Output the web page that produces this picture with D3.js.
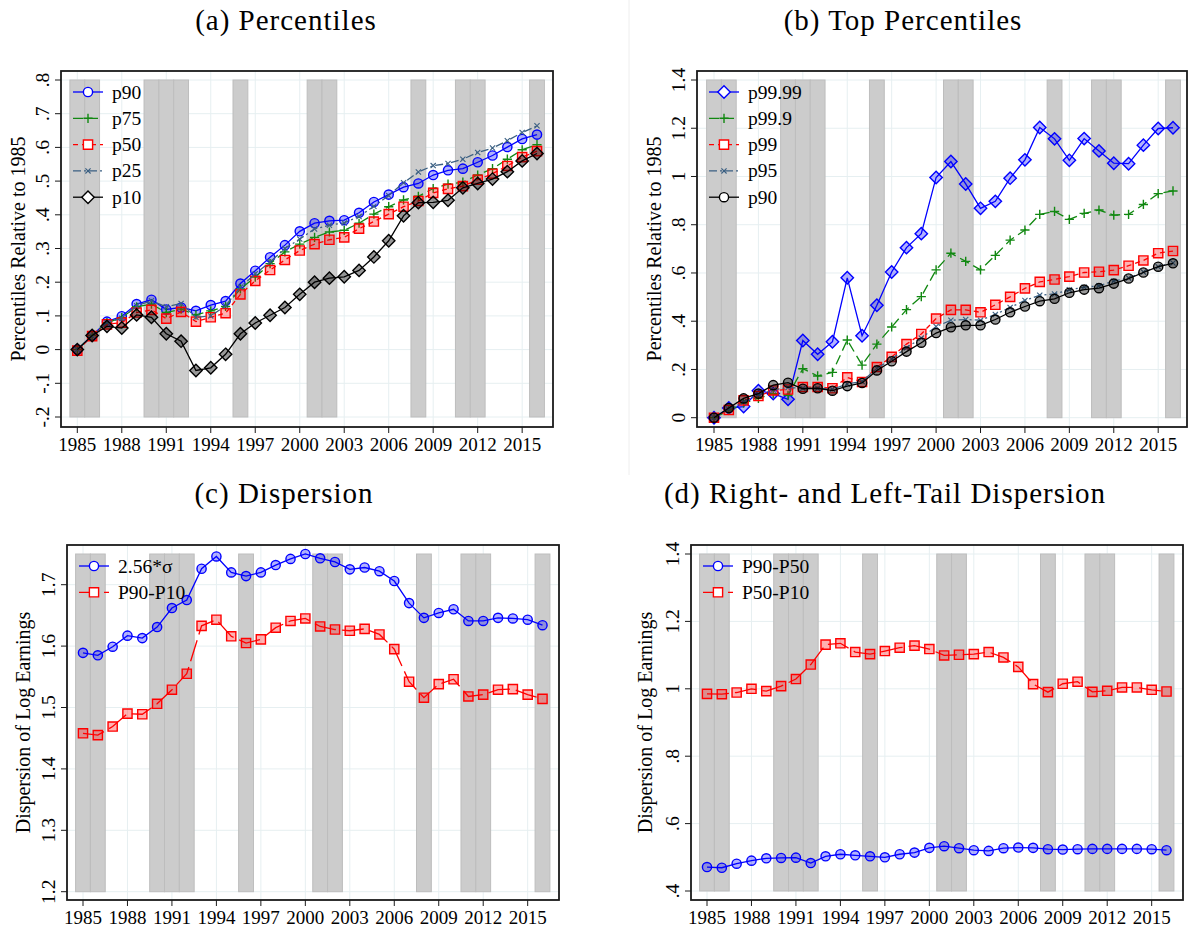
<!DOCTYPE html>
<html>
<head>
<meta charset="utf-8">
<script src="https://cdn.jsdelivr.net/npm/d3@7"></script>
<style>
    body { margin: 0; background: #fff; }
    svg { display: block; }
</style>
</head>
<body>
<svg id="fig" width="1188" height="930"></svg>
<script>
// ---------- data ----------
const years = [1985, 1986, 1987, 1988, 1989, 1990, 1991, 1992, 1993, 1994, 1995, 1996, 1997, 1998, 1999, 2000,
    2001, 2002, 2003, 2004, 2005, 2006, 2007, 2008, 2009, 2010, 2011, 2012, 2013, 2014, 2015, 2016];
const recessionYears = [1985, 1986, 1990, 1991, 1992, 1996, 2001, 2002, 2008, 2011, 2012, 2016];
const xTicks = [1985, 1988, 1991, 1994, 1997, 2000, 2003, 2006, 2009, 2012, 2015];

// (a) Percentiles
const aP90 = [0, 0.042, 0.083, 0.099, 0.135, 0.148, 0.119, 0.125, 0.115, 0.132, 0.144, 0.196, 0.234, 0.274, 0.31, 0.351,
    0.375, 0.382, 0.384, 0.406, 0.438, 0.46, 0.482, 0.493, 0.518, 0.532, 0.537, 0.556, 0.576, 0.601, 0.625, 0.638];
const aP75 = [0, 0.042, 0.08, 0.095, 0.127, 0.135, 0.11, 0.12, 0.103, 0.115, 0.128, 0.18, 0.215, 0.255, 0.29, 0.313,
    0.333, 0.349, 0.354, 0.375, 0.402, 0.424, 0.444, 0.455, 0.478, 0.491, 0.497, 0.518, 0.537, 0.565, 0.593, 0.608];
const aP50 = [-0.003, 0.04, 0.075, 0.08, 0.11, 0.118, 0.092, 0.112, 0.083, 0.096, 0.108, 0.164, 0.204, 0.236, 0.266, 0.294,
    0.313, 0.326, 0.333, 0.359, 0.38, 0.402, 0.424, 0.441, 0.465, 0.477, 0.485, 0.504, 0.522, 0.545, 0.571, 0.589];
const aP25 = [0, 0.04, 0.08, 0.093, 0.13, 0.145, 0.127, 0.137, 0.096, 0.1, 0.13, 0.185, 0.225, 0.26, 0.3, 0.328,
    0.358, 0.369, 0.376, 0.395, 0.425, 0.457, 0.495, 0.527, 0.546, 0.552, 0.565, 0.585, 0.598, 0.62, 0.644, 0.664];
const aP10 = [0, 0.042, 0.069, 0.064, 0.103, 0.096, 0.047, 0.025, -0.062, -0.054, -0.014, 0.047, 0.079, 0.102, 0.125, 0.164,
    0.2, 0.212, 0.216, 0.235, 0.275, 0.323, 0.397, 0.436, 0.437, 0.443, 0.48, 0.493, 0.506, 0.528, 0.56, 0.582];
const aTicks = [-0.2, -0.1, 0, 0.1, 0.2, 0.3, 0.4, 0.5, 0.6, 0.7, 0.8];

// (b) Top Percentiles
const bP9999 = [0, 0.04, 0.046, 0.112, 0.1, 0.076, 0.32, 0.263, 0.315, 0.58, 0.34, 0.466, 0.604, 0.705, 0.763, 0.996,
    1.062, 0.969, 0.868, 0.897, 0.993, 1.069, 1.203, 1.156, 1.067, 1.157, 1.106, 1.055, 1.053, 1.13, 1.199, 1.202];
const bP999 = [0, 0.03, 0.06, 0.08, 0.1, 0.093, 0.203, 0.173, 0.188, 0.322, 0.218, 0.305, 0.376, 0.448, 0.502, 0.613,
    0.682, 0.648, 0.613, 0.673, 0.736, 0.778, 0.843, 0.855, 0.822, 0.847, 0.861, 0.84, 0.843, 0.884, 0.929, 0.94];
const bP99 = [0, 0.032, 0.072, 0.09, 0.113, 0.117, 0.127, 0.127, 0.122, 0.167, 0.148, 0.21, 0.252, 0.305, 0.347, 0.411,
    0.447, 0.447, 0.437, 0.468, 0.501, 0.536, 0.563, 0.573, 0.585, 0.602, 0.605, 0.612, 0.63, 0.652, 0.682, 0.691];
const bP95 = [0, 0.035, 0.065, 0.095, 0.115, 0.125, 0.122, 0.122, 0.118, 0.14, 0.15, 0.205, 0.243, 0.29, 0.33, 0.378,
    0.404, 0.407, 0.404, 0.428, 0.457, 0.486, 0.508, 0.513, 0.53, 0.541, 0.547, 0.566, 0.579, 0.604, 0.626, 0.641];
const bP90 = [0, 0.04, 0.08, 0.1, 0.135, 0.145, 0.12, 0.122, 0.112, 0.131, 0.144, 0.196, 0.234, 0.274, 0.311, 0.351,
    0.375, 0.383, 0.383, 0.407, 0.437, 0.461, 0.483, 0.493, 0.518, 0.531, 0.537, 0.556, 0.577, 0.602, 0.626, 0.64];
const bTicks = [0, 0.2, 0.4, 0.6, 0.8, 1, 1.2, 1.4];

// (c) Dispersion
const cSigma = [1.589, 1.585, 1.599, 1.617, 1.613, 1.631, 1.662, 1.675, 1.726, 1.746, 1.72, 1.714, 1.72, 1.732, 1.742, 1.75,
    1.743, 1.737, 1.725, 1.728, 1.722, 1.706, 1.67, 1.646, 1.654, 1.66, 1.641, 1.641, 1.646, 1.645, 1.643, 1.634];
const cP9010 = [1.458, 1.455, 1.469, 1.49, 1.489, 1.506, 1.529, 1.555, 1.633, 1.643, 1.616, 1.605, 1.611, 1.63, 1.641, 1.645,
    1.632, 1.627, 1.625, 1.628, 1.619, 1.595, 1.542, 1.516, 1.538, 1.546, 1.518, 1.521, 1.529, 1.53, 1.521, 1.514];
const cTicks = [1.2, 1.3, 1.4, 1.5, 1.6, 1.7];

// (d) Right- and Left-Tail Dispersion
const dP9050 = [0.471, 0.469, 0.481, 0.49, 0.497, 0.498, 0.499, 0.483, 0.503, 0.509, 0.506, 0.503, 0.5, 0.509, 0.514, 0.528,
    0.533, 0.527, 0.521, 0.519, 0.527, 0.529, 0.528, 0.524, 0.523, 0.524, 0.525, 0.525, 0.525, 0.525, 0.524, 0.521];
const dP5010 = [0.985, 0.984, 0.989, 1.0, 0.993, 1.008, 1.029, 1.072, 1.131, 1.135, 1.109, 1.103, 1.112, 1.122, 1.128, 1.118,
    1.099, 1.101, 1.103, 1.109, 1.093, 1.065, 1.014, 0.99, 1.015, 1.021, 0.991, 0.994, 1.004, 1.004, 0.997, 0.992];
const dTicks = [0.4, 0.6, 0.8, 1, 1.2, 1.4];

// ---------- styles ----------
const FONT = "'Liberation Serif', 'Times New Roman', serif";
const BLUE = '#0000ff', GREEN = '#118811', RED = '#ff0000', SLATE = '#3a5f82', BLACK = '#000000';

const svg = d3.select('#fig');

// faint separator between the two upper images
svg.append('line')
    .attr('x1', 629).attr('x2', 629)
    .attr('y1', 0).attr('y2', 475)
    .style('stroke', '#eeeeee')
    .style('stroke-width', 1);

// stata-like number labels: .8 instead of 0.8 (plain hyphen for minus)
function stataFmt(v) {
    let s = String(+v.toFixed(2));
    return s.replace(/^0\./, '.').replace(/^-0\./, '-.');
}

// marker path centred on 0,0
function markerPath(type, s) {
    if (type === 'circle') {
        return `M${s},0A${s},${s} 0 1,1 ${-s},0A${s},${s} 0 1,1 ${s},0Z`;
    }
    if (type === 'square') {
        return `M${-s},${-s}H${s}V${s}H${-s}Z`;
    }
    if (type === 'diamond') {
        return `M0,${-s}L${s},0L0,${s}L${-s},0Z`;
    }
    if (type === 'plus') {
        return `M${-s},0H${s}M0,${-s}V${s}`;
    }
    if (type === 'x') {
        return `M${-s},${-s}L${s},${s}M${-s},${s}L${s},${-s}`;
    }
}

const markerSize = {circle: 4.6, square: 4.6, diamond: 6.2, plus: 4.6, x: 2.6};
const markerFill = {
    [BLUE]: 'rgba(0,0,255,0.3)',
    [RED]: 'rgba(255,0,0,0.3)',
    [BLACK]: 'rgba(0,0,0,0.4)'
};

function drawMarker(g, type, color, x, y, fill) {
    let filled = (type === 'circle' || type === 'square' || type === 'diamond');
    g.append('path')
        .attr('d', markerPath(type, markerSize[type]))
        .attr('transform', `translate(${x},${y})`)
        .style('fill', filled ? fill : 'none')
        .style('stroke', color)
        .style('stroke-width', type === 'x' ? 1.1 : 1.4);
}

/**
 * Draws one panel: frame, grid, recession bars, series and legend
 */
function buildPanel(p) {
    let g = svg.append('g');
    let f = p.frame;

    let x = d3.scaleLinear().domain([1985, 2016]).range(p.xRange);
    let y = d3.scaleLinear().domain(p.yDomain).range(p.yRange);

    // title
    g.append('text')
        .text(p.title)
        .attr('x', p.titleX)
        .attr('y', p.titleY)
        .attr('text-anchor', 'middle')
        .style('font-family', FONT)
        .style('font-size', '29px')
        .style('letter-spacing', '1px');

    // grid
    g.selectAll('.hgrid')
        .data(p.yTicks)
        .enter()
        .append('line')
        .attr('x1', f.left).attr('x2', f.right)
        .attr('y1', d => y(d)).attr('y2', d => y(d))
        .style('stroke', '#e6eff1')
        .style('stroke-width', 1);
    g.selectAll('.vgrid')
        .data(xTicks)
        .enter()
        .append('line')
        .attr('x1', d => x(d)).attr('x2', d => x(d))
        .attr('y1', f.top).attr('y2', f.bottom)
        .style('stroke', '#e6eff1')
        .style('stroke-width', 1);

    // recession bars
    let yLo = p.yTicks[0], yHi = p.yDomain[1];
    g.selectAll('.rec')
        .data(recessionYears)
        .enter()
        .append('rect')
        .attr('x', d => x(d - 0.5))
        .attr('width', d => x(d + 0.5) - x(d - 0.5))
        .attr('y', y(yHi))
        .attr('height', y(yLo) - y(yHi))
        .style('fill', '#cccccc')
        .style('stroke', '#bdbdbd')
        .style('stroke-width', 1);

    // series
    p.series.forEach(s => {
        let line = d3.line()
            .x((d, i) => x(years[i]))
            .y(d => y(d));
        g.append('path')
            .datum(s.values)
            .attr('d', line)
            .style('fill', 'none')
            .style('stroke', s.color)
            .style('stroke-width', 1.3)
            .style('stroke-dasharray', s.dash || null);
        s.values.forEach((v, i) => {
            drawMarker(g, s.marker, s.color, x(years[i]), y(v), markerFill[s.color]);
        });
    });

    // frame
    g.append('rect')
        .attr('x', f.left).attr('y', f.top)
        .attr('width', f.right - f.left)
        .attr('height', f.bottom - f.top)
        .style('fill', 'none')
        .style('stroke', '#1a1a1a')
        .style('stroke-width', 1.8);

    // y axis ticks + labels
    g.selectAll('.ytick')
        .data(p.yTicks)
        .enter()
        .append('line')
        .attr('x1', f.left - 6).attr('x2', f.left)
        .attr('y1', d => y(d)).attr('y2', d => y(d))
        .style('stroke', '#1a1a1a')
        .style('stroke-width', 1);
    g.selectAll('.ylab')
        .data(p.yTicks)
        .enter()
        .append('text')
        .text(d => stataFmt(d))
        .attr('text-anchor', 'middle')
        .attr('transform', d => `translate(${f.left - 12}, ${y(d)}) rotate(-90)`)
        .style('font-family', FONT)
        .style('font-size', '19.5px');
    g.append('text')
        .text(p.yTitle)
        .attr('text-anchor', 'middle')
        .attr('transform', `translate(${p.yTitleX}, ${(f.top + f.bottom) / 2}) rotate(-90)`)
        .style('font-family', FONT)
        .style('font-size', '20px');

    // x axis ticks + labels
    g.selectAll('.xtick')
        .data(xTicks)
        .enter()
        .append('line')
        .attr('x1', d => x(d)).attr('x2', d => x(d))
        .attr('y1', f.bottom).attr('y2', f.bottom + 6)
        .style('stroke', '#1a1a1a')
        .style('stroke-width', 1);
    g.selectAll('.xlab')
        .data(xTicks)
        .enter()
        .append('text')
        .text(d => d)
        .attr('x', d => x(d))
        .attr('y', f.bottom + 24)
        .attr('text-anchor', 'middle')
        .style('font-family', FONT)
        .style('font-size', '19px');

    // legend
    let lx = f.left + 12, ly = p.legendY, rowH = 26.3;
    p.series.forEach((s, i) => {
        let yy = ly + i * rowH;
        g.append('line')
            .attr('x1', lx).attr('x2', lx + 30)
            .attr('y1', yy).attr('y2', yy)
            .style('stroke', s.color)
            .style('stroke-width', 1.3)
            .style('stroke-dasharray', s.legendDash || s.dash || null);
        drawMarker(g, s.marker, s.color, lx + 15, yy, '#ffffff');
        g.append('text')
            .text(s.label)
            .attr('x', lx + 39)
            .attr('y', yy + 6.5)
            .style('font-family', FONT)
            .style('font-size', '19.5px');
    });
}

buildPanel({
    title: '(a) Percentiles', titleX: 286, titleY: 30,
    frame: {left: 61, top: 71, right: 553, bottom: 427},
    xRange: [77.3, 537], yDomain: [-0.2, 0.8], yRange: [417, 80],
    yTicks: aTicks, yTitle: 'Percentiles Relative to 1985', yTitleX: 25,
    legendY: 92,
    series: [
        {label: 'p90', values: aP90, color: BLUE, marker: 'circle'},
        {label: 'p75', values: aP75, color: GREEN, marker: 'plus', dash: '10,5'},
        {label: 'p50', values: aP50, color: RED, marker: 'square', dash: '5,4'},
        {label: 'p25', values: aP25, color: SLATE, marker: 'x', dash: '8,3,2,3'},
        {label: 'p10', values: aP10, color: BLACK, marker: 'diamond'}
    ]
});

buildPanel({
    title: '(b) Top Percentiles', titleX: 903, titleY: 30,
    frame: {left: 697, top: 71, right: 1187, bottom: 427},
    xRange: [714, 1173], yDomain: [0, 1.4], yRange: [417.7, 80],
    yTicks: bTicks, yTitle: 'Percentiles Relative to 1985', yTitleX: 661,
    legendY: 92,
    series: [
        {label: 'p99.99', values: bP9999, color: BLUE, marker: 'diamond'},
        {label: 'p99.9', values: bP999, color: GREEN, marker: 'plus', dash: '10,5'},
        {label: 'p99', values: bP99, color: RED, marker: 'square', dash: '5,4'},
        {label: 'p95', values: bP95, color: SLATE, marker: 'x', dash: '8,3,2,3'},
        {label: 'p90', values: bP90, color: BLACK, marker: 'circle'}
    ]
});

buildPanel({
    title: '(c) Dispersion', titleX: 284, titleY: 503,
    frame: {left: 67, top: 545, right: 559, bottom: 900},
    xRange: [83, 542.5], yDomain: [1.2, 1.75], yRange: [891.7, 554],
    yTicks: cTicks, yTitle: 'Dispersion of Log Earnings', yTitleX: 30,
    legendY: 566,
    series: [
        {label: '2.56*σ', values: cSigma, color: BLUE, marker: 'circle'},
        {label: 'P90-P10', values: cP9010, color: RED, marker: 'square', dash: '22,6', legendDash: '19,6'}
    ]
});

buildPanel({
    title: '(d) Right- and Left-Tail Dispersion', titleX: 885, titleY: 503,
    frame: {left: 691, top: 545, right: 1183, bottom: 900},
    xRange: [707, 1166.5], yDomain: [0.4, 1.4], yRange: [891, 554],
    yTicks: dTicks, yTitle: 'Dispersion of Log Earnings', yTitleX: 652,
    legendY: 566,
    series: [
        {label: 'P90-P50', values: dP9050, color: BLUE, marker: 'circle'},
        {label: 'P50-P10', values: dP5010, color: RED, marker: 'square', dash: '22,6', legendDash: '19,6'}
    ]
});
</script>
</body>
</html>
